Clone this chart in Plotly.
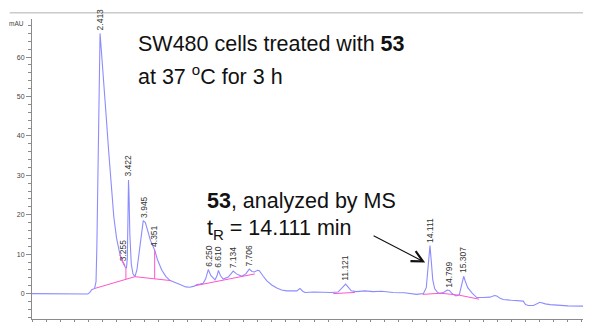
import numpy as np
import plotly.graph_objects as go

# ---- data ----
chromatogram = [
    (0.0, 0.0), (1.0, -0.1), (1.98, -0.1), (2.05, 0.3), (2.12, 1.0), (2.22, 1.3),
    (2.27, 3.0), (2.30, 12.0), (2.33, 30.0), (2.36, 50.0), (2.39, 63.0), (2.413, 66.0),
    (2.44, 63.5), (2.48, 60.0), (2.54, 53.0), (2.62, 46.0), (2.72, 36.0), (2.82, 27.0),
    (2.90, 19.5), (3.00, 14.0), (3.10, 10.5), (3.20, 8.2), (3.255, 7.4), (3.30, 6.8),
    (3.35, 6.5), (3.38, 9.0), (3.40, 18.0), (3.422, 28.8), (3.44, 25.0), (3.47, 15.0),
    (3.52, 7.5), (3.58, 5.0), (3.65, 4.3), (3.72, 6.0), (3.80, 11.0), (3.88, 16.0),
    (3.945, 18.5), (4.02, 18.0), (4.10, 16.0), (4.20, 13.5), (4.351, 11.0), (4.45, 8.6),
    (4.60, 6.0), (4.75, 4.3), (4.90, 3.3), (5.05, 2.8), (5.25, 2.3), (5.45, 1.7),
    (5.60, 1.6), (5.75, 1.9), (5.85, 2.3), (5.96, 2.4), (6.07, 2.6), (6.16, 3.8),
    (6.250, 6.1), (6.34, 4.6), (6.49, 3.5), (6.56, 4.5), (6.610, 5.9), (6.68, 4.6),
    (6.78, 3.7), (6.96, 4.2), (7.06, 5.0), (7.134, 5.7), (7.25, 5.0), (7.44, 4.4),
    (7.58, 5.0), (7.706, 6.2), (7.80, 5.6), (7.88, 5.5), (8.00, 5.9), (8.06, 5.8),
    (8.20, 4.4), (8.32, 3.3), (8.50, 2.2), (8.68, 1.4), (8.85, 0.9), (9.03, 0.7),
    (9.39, 0.7), (9.50, 1.3), (9.60, 0.6), (9.68, 0.3), (10.0, 0.4), (10.33, 0.3),
    (10.6, 0.3), (10.85, 0.4), (10.98, 1.4), (11.121, 2.4), (11.22, 1.6), (11.32, 0.7),
    (11.5, 0.5), (11.8, 0.7), (12.1, 0.5), (12.4, 0.6), (12.8, 0.3), (13.2, 0.2),
    (13.64, -0.2), (13.88, 0.0), (13.98, 1.5), (14.05, 7.0), (14.111, 12.2), (14.16, 8.0),
    (14.21, 3.5), (14.28, 1.2), (14.38, 0.3), (14.47, 0.0), (14.62, 0.4), (14.72, 0.9),
    (14.799, 0.8), (14.88, 0.1), (15.03, -0.6), (15.15, -0.3), (15.23, 2.0), (15.307, 4.4),
    (15.36, 3.2), (15.45, 1.5), (15.6, 0.2), (15.77, -1.0), (16.0, -1.0), (16.24, -0.9),
    (16.4, -0.5), (16.48, -0.6), (16.6, -1.2), (16.71, -1.5), (17.0, -1.7), (17.3, -1.8),
    (17.42, -1.9), (17.5, -2.8), (17.6, -3.0), (17.78, -3.0), (17.9, -2.5), (18.01, -2.2),
    (18.2, -2.6), (18.37, -2.8), (19.0, -3.1), (19.75, -3.2),
]
rt_min = [p[0] for p in chromatogram]
abs_mau = [p[1] for p in chromatogram]

peak_rt = [2.413, 3.255, 3.422, 3.945, 4.351, 6.250, 6.610, 7.134, 7.706,
           11.121, 14.111, 14.799, 15.307]

baseline_a = [(2.22, 1.3), (3.65, 4.3), (4.92, 3.3)]
baseline_b = [(5.78, 2.0), (7.90, 5.0)]
baseline_c = [(10.68, 0.0), (11.45, 0.3)]
baseline_d = [(13.85, -0.2), (14.50, 0.1), (15.15, -0.4), (15.85, -1.4)]
skim_line = [(3.10, 9.9), (3.30, 7.0)]
drop_rt = [3.33, 4.35]

y_ticks = [0, 10, 20, 30, 40, 50, 60]
x_ticks = [2, 4, 6, 8, 10, 12, 14, 16, 18]

# ---- figure ----
BLUE = "#8c8cff"
PINK = "#ff55cc"
FONT = "Arial, Liberation Sans, sans-serif"

fig = go.Figure()
fig.add_trace(go.Scatter(x=rt_min, y=abs_mau, mode="lines",
                         line=dict(color=BLUE, width=1.1), hoverinfo="skip"))

for seg in [baseline_a, baseline_b, baseline_c, baseline_d, skim_line]:
    fig.add_trace(go.Scatter(x=[p[0] for p in seg], y=[p[1] for p in seg], mode="lines",
                             line=dict(color=PINK, width=1), hoverinfo="skip"))

ba_x = [p[0] for p in baseline_a]
ba_y = [p[1] for p in baseline_a]
for rt in drop_rt:
    lo = float(np.interp(rt, ba_x, ba_y))
    hi = float(np.interp(rt, rt_min, abs_mau))
    fig.add_trace(go.Scatter(x=[rt, rt], y=[lo, hi], mode="lines",
                             line=dict(color=PINK, width=1), hoverinfo="skip"))

# peak labels
for rt in peak_rt:
    h = float(np.interp(rt, rt_min, abs_mau))
    fig.add_annotation(x=rt, y=h, text=f"{rt:.3f}", textangle=-90, showarrow=False,
                       xanchor="center", yanchor="bottom", yshift=1,
                       font=dict(family=FONT, size=8.5, color="#333333"))

# text blocks
big = dict(family=FONT, size=21.5, color="#111111")
fig.add_annotation(xref="paper", yref="paper", x=0.186, y=0.918, xanchor="left", yanchor="middle",
                   text="SW480 cells treated with <b>53</b>", showarrow=False, font=big)
fig.add_annotation(xref="paper", yref="paper", x=0.186, y=0.815, xanchor="left", yanchor="middle",
                   text="at 37 <sup>o</sup>C for 3 h", showarrow=False, font=big)
fig.add_annotation(xref="paper", yref="paper", x=0.311, y=0.394, xanchor="left", yanchor="middle",
                   text="<b>53</b>, analyzed by MS", showarrow=False, font=big)
fig.add_annotation(xref="paper", yref="paper", x=0.311, y=0.298, xanchor="left", yanchor="middle",
                   text="t<sub>R</sub> = 14.111 min", showarrow=False, font=big)

# arrow to the 14.111 peak
fig.add_annotation(x=13.94, y=7.9, ax=12.06, ay=14.9, axref="x", ayref="y", xref="x", yref="y",
                   text="", showarrow=True, arrowhead=5, arrowsize=2, arrowwidth=1.1,
                   arrowcolor="#111111")

# axis unit labels
small = dict(family=FONT, size=6.5, color="#444444")
fig.add_annotation(xref="paper", yref="paper", x=-0.01, y=0.986, xanchor="right", yanchor="middle",
                   text="mAU", showarrow=False, font=small)
fig.add_annotation(xref="paper", yref="paper", x=0.996, y=-0.03, xanchor="center", yanchor="top",
                   text="min", showarrow=False, font=small)

# top frame line
fig.add_shape(type="line", xref="paper", yref="paper", x0=-0.04, x1=1.01, y0=1.0205, y1=1.0205,
              line=dict(color="#b0b0b0", width=1))

# the page body adds an 8 px offset, so the figure is 8 px smaller and margins shifted
fig.update_layout(
    width=583, height=314,
    margin=dict(l=24, r=2, t=11, b=3, autoexpand=False),
    paper_bgcolor="white", plot_bgcolor="white",
    showlegend=False,
    font=dict(family=FONT),
)
fig.update_xaxes(range=[0, 19.75], showgrid=False, zeroline=False, automargin=False,
                 showline=True, linecolor="#8a8a8a", linewidth=1,
                 tickmode="array", tickvals=x_ticks, ticks="outside", ticklen=5,
                 tickcolor="#8a8a8a", tickfont=dict(family=FONT, size=7, color="#444444"),
                 minor=dict(dtick=0.5, ticks="outside", ticklen=3, tickcolor="#8a8a8a"))
fig.update_yaxes(range=[-6.44, 69.65], showgrid=False, zeroline=False, automargin=False,
                 showline=True, linecolor="#8a8a8a", linewidth=1,
                 tickmode="array", tickvals=y_ticks, ticks="outside", ticklen=5,
                 tickcolor="#8a8a8a", tickfont=dict(family=FONT, size=7, color="#444444"),
                 minor=dict(dtick=2, ticks="outside", ticklen=3, tickcolor="#8a8a8a"))

fig.write_html("out.html")
